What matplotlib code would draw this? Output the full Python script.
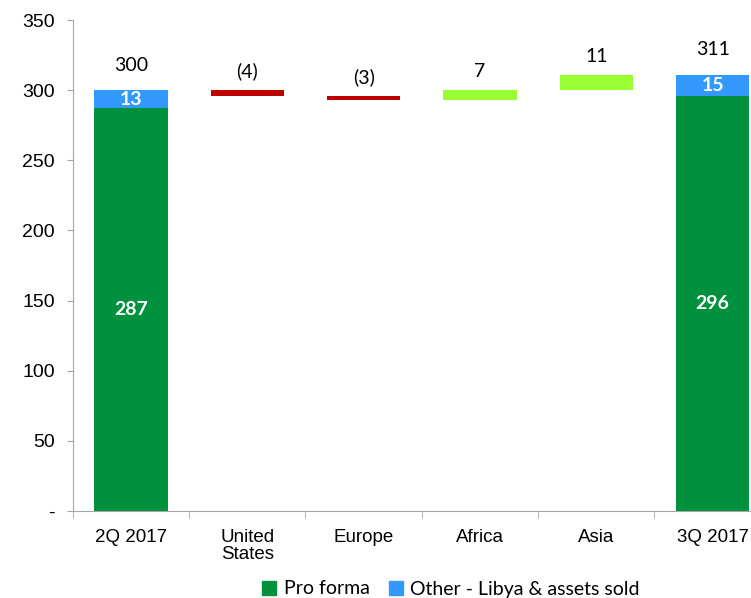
import matplotlib.pyplot as plt
from matplotlib.patches import Patch

# data
categories = ['2Q 2017', 'United\nStates', 'Europe', 'Africa', 'Asia', '3Q 2017']
pro_forma = [287, 296]          # 2Q 2017, 3Q 2017
other = [13, 15]
changes = [-4, -3, 7, 11]       # US, Europe, Africa, Asia
change_labels = ['(4)', '(3)', '7', '11']
totals = [300, 311]

green = '#00913F'
blue = '#3399FF'
red = '#C00000'
lime = '#99FF33'
gray = '#A6A6A6'

plt.rcParams['font.family'] = ['Liberation Sans', 'DejaVu Sans']
lab_font = ['Lato', 'DejaVu Sans']

fig = plt.figure(figsize=(7.51, 5.98), dpi=100)
ax = fig.add_axes([0.097, 0.1455, 0.903, 0.821])

w = 0.63
end_pos = [0, 5]

# totals: stacked bars
ax.bar(end_pos, pro_forma, width=w, color=green)
ax.bar(end_pos, other, width=w, bottom=pro_forma, color=blue)
for x, p, o, t in zip(end_pos, pro_forma, other, totals):
    ax.text(x, p / 2, str(p), color='white', fontweight='bold',
            ha='center', va='center', fontsize=14, family=lab_font)
    ax.text(x, p + o / 2, str(o), color='white', fontweight='bold',
            ha='center', va='center', fontsize=14, family=lab_font)
    ax.annotate(str(t), (x, t), xytext=(0, 12), textcoords='offset points',
                ha='center', va='bottom', fontsize=14, family=lab_font)

# floating change bars
level = totals[0]
for i, (c, lab) in enumerate(zip(changes, change_labels)):
    x = i + 1
    if c < 0:
        ax.bar(x, -c, width=w, bottom=level + c, color=red)
        top = level
    else:
        ax.bar(x, c, width=w, bottom=level, color=lime)
        top = level + c
    ax.annotate(lab, (x, top), xytext=(0, 7), textcoords='offset points',
                ha='center', va='bottom', fontsize=14, family=lab_font)
    level += c

ax.set_yticks(range(0, 351, 50))
ax.set_yticklabels(['-'] + [str(v) for v in range(50, 351, 50)])

ax.set_xticks(range(len(categories)))
ax.set_xticklabels(categories, fontsize=13.5, linespacing=1.0)
ax.set_xticks([i - 0.5 for i in range(len(categories) + 1)], minor=True)
ax.tick_params(axis='x', which='major', length=0, pad=13)
ax.tick_params(axis='x', which='minor', length=5, color=gray, direction='out')
ax.tick_params(axis='y', length=4, color=gray, labelsize=14, pad=9)

# limits after the ticks, since set_xticks widens the view
ax.set_ylim(0, 350)
ax.set_xlim(-0.5, -0.5 + 678 / 116.3)

for s in ['top', 'right']:
    ax.spines[s].set_visible(False)
for s in ['left', 'bottom']:
    ax.spines[s].set_color(gray)

handles = [Patch(color=green, label='Pro forma'),
           Patch(color=blue, label='Other - Libya & assets sold')]
fig.legend(handles=handles, loc='center', bbox_to_anchor=(451 / 751, 1 - 589 / 598),
           ncol=2, frameon=False, prop={'family': lab_font, 'size': 14},
           handlelength=0.7, handleheight=0.7, handletextpad=0.4, columnspacing=1.0)

fig.savefig('out.png', dpi=100)
